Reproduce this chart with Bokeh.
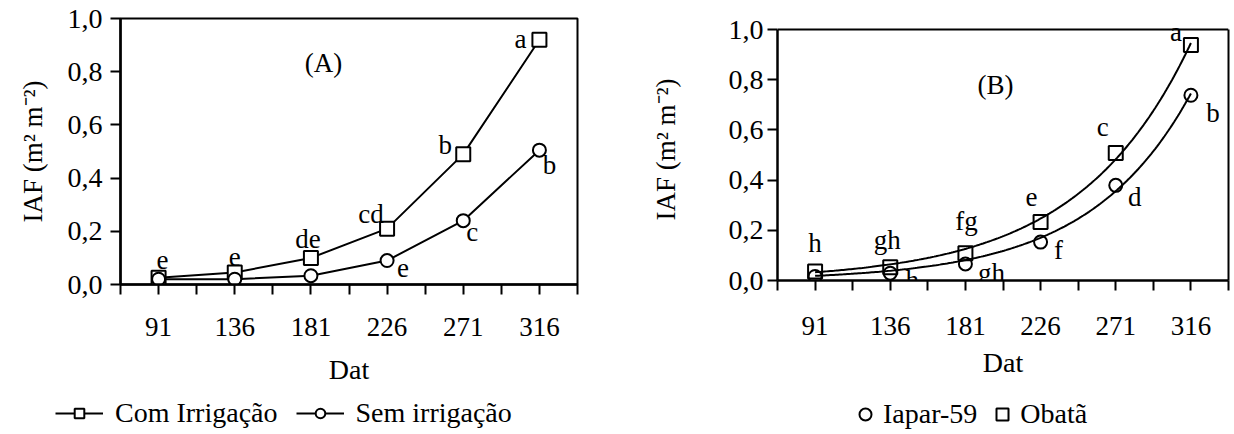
import numpy as np
from bokeh.plotting import figure
from bokeh.layouts import row, column
from bokeh.models import (Range1d, FixedTicker, CustomJSTickFormatter, Legend,
                          LegendItem, ColumnDataSource, LinearAxis, Span)
from bokeh.core.properties import value
from bokeh.embed import file_html
from bokeh.resources import INLINE

# ---------------- data ----------------
days = [91, 136, 181, 226, 271, 316]
y_ticks = [0.0, 0.2, 0.4, 0.6, 0.8, 1.0]

# Panel A
a_com = [0.025, 0.045, 0.10, 0.21, 0.49, 0.92]      # Com Irrigação (squares)
a_sem = [0.020, 0.020, 0.033, 0.09, 0.24, 0.505]    # Sem irrigação (circles)
a_com_letters = ["e", "e", "de", "cd", "b", "a"]
a_sem_letters = ["", "", "", "e", "c", "b"]

# Panel B
b_obata = [0.036, 0.053, 0.109, 0.233, 0.508, 0.938]  # Obatã (squares)
b_iapar = [0.016, 0.029, 0.066, 0.153, 0.379, 0.738]  # Iapar-59 (circles)
b_obata_letters = ["h", "gh", "fg", "e", "c", "a"]
b_iapar_letters = ["", "h", "gh", "f", "d", "b"]

# ---------------- styling ----------------
FONT = "Liberation Serif"
a_com_off = [(4, -18), (0, -16), (-3, -19), (-16, -15), (-18, -9), (-19, -1)]
a_sem_off = [(0, 0), (0, 0), (0, 0), (16, 7), (9, 11), (10, 15)]
b_obata_off = [(0, -28), (-3, -27), (1, -32), (-9, -25), (-13, -26), (-15, -13)]
b_iapar_off = [(0, 0), (22, 7), (26, 9), (18, 8), (19, 12), (22, 18)]

half = (days[1] - days[0]) / 2.0
x_lo, x_hi = days[0] - half, days[-1] + half
minor = [d - half for d in days] + [days[-1] + half]
Y_MAX = y_ticks[-1]


def make_fig(left, top, frame_w, frame_h, right, bottom, y_top):
    p = figure(title=None, output_backend="svg", toolbar_location=None,
               x_range=Range1d(x_lo, x_hi), y_range=Range1d(0, y_top),
               frame_width=frame_w, frame_height=frame_h,
               min_border_left=left, min_border_top=top,
               min_border_right=right, min_border_bottom=bottom)
    p.grid.visible = False
    p.background_fill_color = None
    p.border_fill_color = "white"
    p.outline_line_color = "black"
    p.outline_line_width = 2
    p.outline_line_alpha = 1

    xa = p.xaxis[0]
    xa.ticker = FixedTicker(ticks=days, minor_ticks=minor)
    xa.axis_line_width = 2.5
    xa.major_tick_line_width = 2
    xa.minor_tick_line_width = 2
    xa.major_tick_in = 0
    xa.major_tick_out = 10
    xa.minor_tick_in = 0
    xa.minor_tick_out = 10
    xa.major_label_text_font = FONT
    xa.major_label_text_font_size = "27px"
    xa.major_label_text_color = "black"
    xa.major_label_standoff = 23
    xa.axis_label = "Dat"
    xa.axis_label_text_font = FONT
    xa.axis_label_text_font_size = "28px"
    xa.axis_label_text_font_style = "normal"
    xa.axis_label_text_color = "black"
    xa.axis_label_standoff = 15

    ya = p.yaxis[0]
    ya.ticker = FixedTicker(ticks=y_ticks, minor_ticks=[])
    ya.formatter = CustomJSTickFormatter(code="return tick.toFixed(1).replace('.', ',');")
    ya.bounds = (0, Y_MAX)
    ya.axis_line_width = 2.5
    ya.major_tick_line_width = 2
    ya.major_tick_in = 0
    ya.major_tick_out = 10
    ya.minor_tick_out = 0
    ya.minor_tick_in = 0
    ya.major_label_text_font = FONT
    ya.major_label_text_font_size = "28px"
    ya.major_label_text_color = "black"
    ya.major_label_standoff = 8
    ya.axis_label = "IAF (m² m⁻²)"
    ya.axis_label_text_font = FONT
    ya.axis_label_text_font_size = "27px"
    ya.axis_label_text_font_style = "normal"
    ya.axis_label_text_color = "black"
    ya.axis_label_standoff = 17
    return p


def add_letters(p, ys, letters, offs):
    src = ColumnDataSource(dict(x=days, y=ys, t=letters,
                                dx=[o[0] for o in offs], dy=[o[1] for o in offs]))
    p.text(x="x", y="y", text="t", x_offset="dx", y_offset="dy", source=src,
           text_font=value(FONT), text_font_size="27px", text_color="black",
           text_align="center", text_baseline="middle")


def legend_fig(width, height):
    # a strip whose ranges lie outside the data, so only its legend shows
    f = figure(title=None, width=width, height=height, output_backend="svg",
               toolbar_location=None, x_range=Range1d(0, 1), y_range=Range1d(5, 6),
               x_axis_type=None, y_axis_type=None,
               min_border_left=0, min_border_right=0, min_border_top=0, min_border_bottom=0)
    f.grid.visible = False
    f.outline_line_color = None
    f.background_fill_color = "white"
    f.border_fill_color = "white"
    return f


def make_legend(items, loc, glyph_w, glyph_h, standoff, spacing):
    return Legend(items=items, orientation="horizontal", location=loc,
                  label_text_font=FONT, label_text_font_size="28px",
                  label_text_color="black",
                  glyph_width=glyph_w, glyph_height=glyph_h, label_standoff=standoff,
                  spacing=spacing, padding=0, margin=0, border_line_color=None,
                  background_fill_alpha=0)


# ---------------- Panel A ----------------
pa = make_fig(120, 18, 457, 266, 43, 112, Y_MAX)
pa.line(days, a_com, line_color="black", line_width=2)
pa.scatter(days, a_com, marker="square", size=14, line_color="black",
           line_width=2, fill_color="white")
pa.line(days, a_sem, line_color="black", line_width=2)
pa.scatter(days, a_sem, marker="circle", size=13, line_color="black",
           line_width=2, fill_color="white")
add_letters(pa, a_com, a_com_letters, a_com_off)
add_letters(pa, a_sem, a_sem_letters, a_sem_off)
pa.text(x=[188.4], y=[0.831], text=["(A)"], text_font=value(FONT), text_font_size="27px",
        text_align="center", text_baseline="middle", text_color="black")

# ---------------- Panel B ----------------
# frame spans 18..280 px; the 0..1 box spans 29..280 px (251 px per unit)
pb = make_fig(157, 18, 451, 262, 6, 116, Y_MAX * 262.0 / 251.0)
pb.outline_line_color = None
pb.add_layout(Span(location=Y_MAX, dimension="width", line_color="black", line_width=2))
rax = LinearAxis(bounds=(0, Y_MAX), ticker=FixedTicker(ticks=[]),
                 major_label_text_font_size="0px", axis_line_width=2,
                 major_tick_out=0, minor_tick_out=0)
pb.add_layout(rax, "right")

xs = np.linspace(days[0], days[-1], 200)
curves = []
for ys in (b_obata, b_iapar):
    xa_ = np.array(days, dtype=float)
    ya_ = np.array(ys, dtype=float)
    b, a = np.polyfit(xa_, np.log(ya_), 1, w=ya_)
    curves.append(np.exp(a + b * xs))
pb.line(xs, curves[0], line_color="black", line_width=2)
pb.line(xs, curves[1], line_color="black", line_width=2)
pb.scatter(days, b_obata, marker="square", size=14, line_color="black",
           line_width=2, fill_alpha=0)
pb.scatter(days, b_iapar, marker="circle", size=13, line_color="black",
           line_width=2, fill_alpha=0)
add_letters(pb, b_obata, b_obata_letters, b_obata_off)
add_letters(pb, b_iapar, b_iapar_letters, b_iapar_off)
pb.text(x=[199.0], y=[0.777], text=["(B)"], text_font=value(FONT), text_font_size="27px",
        text_align="center", text_baseline="middle", text_color="black")
pb.yaxis[0].axis_label_standoff = 45
pb.yaxis[0].major_label_standoff = 4
pb.xaxis[0].major_label_standoff = 26
pb.xaxis[0].axis_label_standoff = 9

# ---------------- legends (own strips below the panels) ----------------
lga = legend_fig(620, 38)
l1 = lga.line(days, a_com, line_color="black", line_width=2)
m1 = lga.scatter(days, a_com, marker="square", size=12,
                 line_color="black", line_width=2, fill_color="white")
l2 = lga.line(days, a_sem, line_color="black", line_width=2)
m2 = lga.scatter(days, a_sem, marker="circle", size=12,
                 line_color="black", line_width=2, fill_color="white")
lga.add_layout(make_legend([LegendItem(label="Com Irrigação", renderers=[l1, m1]),
                            LegendItem(label="Sem irrigação", renderers=[l2, m2])],
                           (55, 5), 48, 24, 12, 18))

lgb = legend_fig(614, 38)
m3 = lgb.scatter(days, b_iapar, marker="circle", size=12,
                 line_color="black", line_width=2, fill_color="white")
m4 = lgb.scatter(days, b_obata, marker="square", size=12,
                 line_color="black", line_width=2, fill_color="white")
lgb.add_layout(make_legend([LegendItem(label="Iapar-59", renderers=[m3]),
                            LegendItem(label="Obatã", renderers=[m4])],
                           (230, 4), 30, 30, 3, 10))

layout = column(row(pa, pb, spacing=0), row(lga, lgb, spacing=0), spacing=0)
open("out.html", "w").write(file_html(layout, INLINE))
